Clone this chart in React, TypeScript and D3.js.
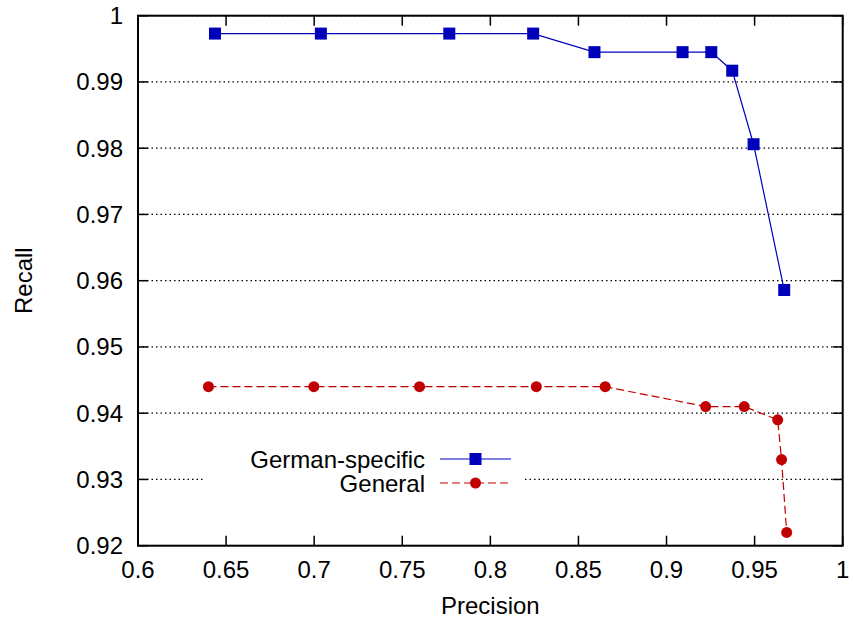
import React from 'react';
import { scaleLinear, line, range } from 'd3';

const germanPrecision = [0.6437, 0.7038, 0.7767, 0.8243, 0.8591, 0.9091, 0.9254, 0.9373, 0.9494, 0.9668];
const germanRecall = [0.9973, 0.9973, 0.9973, 0.9973, 0.9945, 0.9945, 0.9945, 0.9917, 0.9806, 0.9586];

const generalPrecision = [0.64, 0.6998, 0.7598, 0.8261, 0.8652, 0.9222, 0.9441, 0.9631, 0.9653, 0.9682];
const generalRecall = [0.944, 0.944, 0.944, 0.944, 0.944, 0.941, 0.941, 0.939, 0.933, 0.922];

const xTicks = [0.6, 0.65, 0.7, 0.75, 0.8, 0.85, 0.9, 0.95, 1];
const yTicks = [0.92, 0.93, 0.94, 0.95, 0.96, 0.97, 0.98, 0.99, 1];

const seriesNames = ['German-specific', 'General'];

const width = 853;
const height = 620;
const margin = { top: 15.7, right: 10.3, bottom: 74.3, left: 138 };
const font = '"Liberation Sans", Arial, sans-serif';
const blue = '#0000bb';
const red = '#c00000';

const App = () => {
  const x = scaleLinear().domain([0.6, 1]).range([margin.left, width - margin.right]);
  const y = scaleLinear().domain([0.92, 1]).range([height - margin.bottom, margin.top]);

  const pts = (px: number[], py: number[]) => range(px.length).map((i) => [px[i], py[i]] as [number, number]);
  const path = line<[number, number]>()
    .x((d) => x(d[0]))
    .y((d) => y(d[1]));

  const german = pts(germanPrecision, germanRecall);
  const general = pts(generalPrecision, generalRecall);

  const x0 = x(0.6);
  const x1 = x(1);
  const y0 = y(0.92);
  const y1 = y(1);
  const tick = 10;

  // legend placement
  const legTextX = 425;
  const legLine = [440, 511];
  const legY = [459, 483];

  return (
    <svg
      width={width}
      height={height}
      style={{ position: 'absolute', left: 0, top: 0, background: '#fff' }}
      fontFamily={font}
    >
      {/* horizontal grid */}
      <g>
        {yTicks.map((t) => (
          <line
            key={t}
            x1={x0}
            x2={x1}
            y1={y(t)}
            y2={y(t)}
            stroke="#000"
            strokeWidth={1.2}
            strokeDasharray="1.5,3"
          />
        ))}
      </g>

      {/* legend background masks the grid */}
      <rect x={205} y={447} width={318} height={48} fill="#fff" />

      {/* ticks */}
      <g stroke="#000" strokeWidth={1.5}>
        {xTicks.map((t) => (
          <g key={t}>
            <line x1={x(t)} x2={x(t)} y1={y0} y2={y0 - tick} />
            <line x1={x(t)} x2={x(t)} y1={y1} y2={y1 + tick} />
          </g>
        ))}
        {yTicks.map((t) => (
          <g key={t}>
            <line x1={x0} x2={x0 + tick} y1={y(t)} y2={y(t)} />
            <line x1={x1} x2={x1 - tick} y1={y(t)} y2={y(t)} />
          </g>
        ))}
      </g>

      {/* tick labels */}
      <g fontSize={24} fill="#000">
        {xTicks.map((t) => (
          <text key={t} x={x(t)} y={578} textAnchor="middle">
            {String(t)}
          </text>
        ))}
        {yTicks.map((t) => (
          <text key={t} x={123} y={y(t) + 8.5} textAnchor="end">
            {String(t)}
          </text>
        ))}
      </g>

      {/* axis titles */}
      <text x={(x0 + x1) / 2} y={614} textAnchor="middle" fontSize={24}>
        Precision
      </text>
      <text transform={`translate(32,${(y0 + y1) / 2}) rotate(-90)`} textAnchor="middle" fontSize={24}>
        Recall
      </text>

      {/* German-specific */}
      <path d={path(german) ?? ''} fill="none" stroke={blue} strokeWidth={1.2} />
      {german.map((d, i) => (
        <rect key={i} x={x(d[0]) - 6} y={y(d[1]) - 6} width={12} height={12} fill={blue} />
      ))}

      {/* General */}
      <path d={path(general) ?? ''} fill="none" stroke={red} strokeWidth={1.2} strokeDasharray="8,4" />
      {general.map((d, i) => (
        <circle key={i} cx={x(d[0])} cy={y(d[1])} r={5.5} fill={red} />
      ))}

      {/* legend */}
      <g fontSize={24}>
        <text x={legTextX} y={legY[0] + 8.5} textAnchor="end">
          {seriesNames[0]}
        </text>
        <line x1={legLine[0]} x2={legLine[1]} y1={legY[0]} y2={legY[0]} stroke={blue} strokeWidth={1.2} />
        <rect x={(legLine[0] + legLine[1]) / 2 - 6} y={legY[0] - 6} width={12} height={12} fill={blue} />
        <text x={legTextX} y={legY[1] + 8.5} textAnchor="end">
          {seriesNames[1]}
        </text>
        <line
          x1={legLine[0]}
          x2={legLine[1]}
          y1={legY[1]}
          y2={legY[1]}
          stroke={red}
          strokeWidth={1.2}
          strokeDasharray="8,4"
        />
        <circle cx={(legLine[0] + legLine[1]) / 2} cy={legY[1]} r={5.5} fill={red} />
      </g>

      {/* frame */}
      <rect x={x0} y={y1} width={x1 - x0} height={y0 - y1} fill="none" stroke="#000" strokeWidth={2} />
    </svg>
  );
};

export default App;
